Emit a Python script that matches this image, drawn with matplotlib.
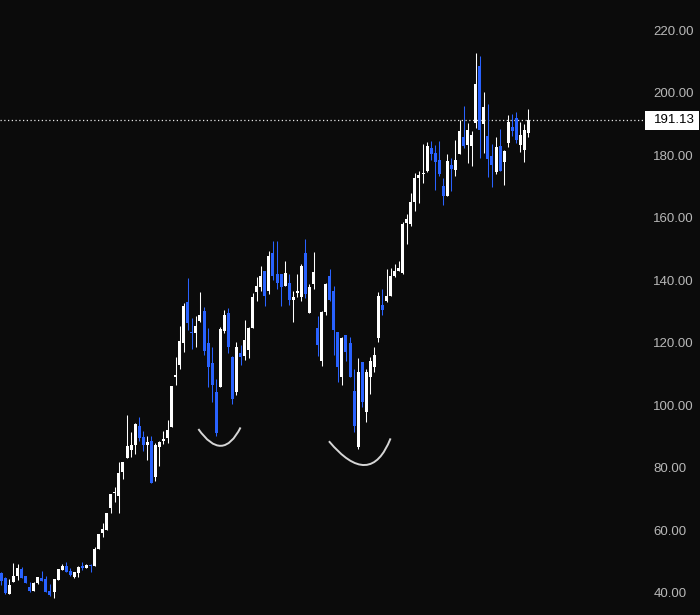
import matplotlib
matplotlib.use("Agg")
import matplotlib.pyplot as plt
import numpy as np
from matplotlib.path import Path
from matplotlib.patches import PathPatch, Rectangle
from matplotlib.transforms import blended_transform_factory

# daily candles
opens = [46.2, 44.7, 39.5, 43.6, 45.4, 47.7, 45.4, 42.0, 40.6, 43.0,
         44.8, 44.5, 40.6, 40.1, 44.2, 47.4, 48.6, 47.0, 45.1, 46.4,
         48.6, 48.0, 48.8, 48.6, 54.1, 59.2, 60.2, 67.2, 71.8, 71.1,
         78.8, 83.2, 85.8, 87.4, 93.5, 90.0, 87.4, 88.7, 77.2, 86.8,
         88.7, 89.6, 93.2, 109.0, 113.0, 119.9, 132.9, 123.4, 123.1, 127.1,
         130.3, 119.9, 113.4, 104.4, 105.8, 123.7, 129.4, 115.6, 104.4, 116.6,
         115.9, 117.8, 124.6, 136.1, 137.7, 142.8, 136.7, 148.6, 141.9, 141.9,
         138.3, 139.0, 133.8, 135.8, 134.5, 148.6, 129.4, 138.7, 124.6, 114.3,
         129.7, 141.2, 136.4, 123.3, 109.2, 122.6, 119.8, 104.7, 86.8, 114.0,
         98.0, 109.2, 112.4, 121.4, 132.2, 133.5, 135.1, 141.5, 143.0, 142.2,
         158.2, 157.9, 164.9, 172.6, 174.0, 174.8, 182.2, 180.6, 178.4, 170.0,
         166.8, 176.8, 175.2, 180.3, 185.7, 183.2, 182.9, 190.2, 208.5, 189.9,
         186.0, 179.7, 174.5, 182.9, 177.7, 183.8, 188.9, 191.8, 183.2, 181.6,
         187.0]
highs = [46.5, 44.9, 44.4, 49.6, 49.3, 48.3, 45.4, 43.6, 43.5, 45.1,
         47.0, 45.3, 42.8, 44.4, 47.7, 49.3, 49.9, 48.0, 46.8, 48.6,
         49.9, 49.3, 49.3, 54.7, 58.9, 62.4, 65.6, 71.7, 74.0, 82.0,
         82.0, 97.0, 91.6, 94.4, 96.4, 91.9, 90.3, 90.3, 88.0, 88.7,
         91.9, 95.4, 106.3, 115.6, 125.5, 132.7, 140.6, 128.0, 128.7, 136.1,
         131.3, 124.6, 118.6, 108.5, 124.9, 130.6, 131.0, 115.9, 120.4, 119.4,
         127.4, 124.9, 135.8, 140.9, 144.4, 143.1, 149.5, 152.7, 152.7, 141.9,
         146.3, 141.9, 136.4, 141.9, 145.1, 153.1, 138.7, 148.9, 128.7, 130.3,
         139.0, 143.5, 138.3, 123.3, 121.7, 122.6, 122.0, 111.7, 115.0, 114.0,
         111.7, 115.3, 118.5, 136.1, 137.3, 143.5, 143.8, 145.1, 146.0, 158.5,
         161.1, 167.8, 174.2, 174.8, 183.5, 184.1, 184.4, 183.2, 184.4, 172.6,
         180.3, 179.0, 184.8, 191.2, 195.7, 190.2, 187.7, 212.6, 211.7, 200.2,
         196.3, 183.5, 185.7, 188.3, 181.6, 192.8, 193.1, 193.7, 190.5, 189.9,
         194.7]
lows = [42.6, 39.6, 39.5, 43.6, 44.2, 44.6, 43.0, 40.3, 40.6, 42.7,
        43.8, 40.4, 39.0, 38.4, 44.2, 47.4, 46.7, 45.5, 44.6, 45.1,
        47.3, 48.0, 46.7, 48.6, 54.1, 57.9, 60.2, 65.6, 69.1, 65.6,
        76.5, 83.0, 83.5, 84.5, 88.7, 85.5, 82.6, 75.2, 75.9, 80.7,
        87.7, 88.0, 93.2, 106.6, 111.7, 116.9, 124.1, 117.9, 118.6, 126.8,
        116.2, 106.0, 101.2, 90.3, 105.8, 123.1, 116.6, 100.5, 103.4, 113.0,
        114.6, 115.0, 124.6, 133.2, 136.7, 131.9, 135.5, 140.0, 137.1, 131.6,
        138.0, 132.2, 126.8, 134.5, 133.5, 134.2, 129.4, 137.1, 115.9, 112.7,
        129.0, 133.2, 116.2, 107.3, 106.4, 114.3, 108.9, 91.5, 86.1, 99.6,
        94.8, 103.7, 110.5, 120.1, 129.0, 132.9, 135.1, 140.9, 143.0, 141.9,
        151.5, 157.2, 162.0, 164.6, 171.0, 174.5, 178.4, 168.8, 173.2, 164.0,
        166.8, 168.4, 173.3, 180.3, 182.2, 177.4, 176.7, 188.6, 179.0, 180.6,
        172.9, 169.7, 173.9, 174.9, 170.4, 182.5, 186.1, 183.8, 181.0, 177.8,
        185.7]
closes = [43.8, 39.8, 42.6, 45.4, 47.9, 44.6, 43.0, 40.6, 43.0, 45.1,
          43.8, 40.4, 39.4, 44.4, 47.7, 48.6, 46.7, 45.8, 46.8, 48.3,
          48.0, 48.9, 48.5, 54.1, 58.9, 60.5, 65.6, 71.7, 72.2, 78.4,
          82.0, 87.1, 87.4, 94.1, 89.6, 87.4, 88.4, 75.2, 87.4, 88.4,
          89.3, 92.2, 106.3, 109.8, 120.7, 131.6, 126.3, 123.1, 125.5, 129.0,
          117.5, 112.4, 106.6, 91.2, 124.3, 129.0, 118.8, 102.1, 118.8, 115.3,
          121.0, 124.6, 134.5, 138.0, 141.5, 134.8, 147.6, 141.5, 139.0, 137.7,
          142.2, 133.8, 134.5, 136.7, 144.7, 135.5, 137.7, 142.5, 119.4, 130.0,
          138.7, 133.8, 124.2, 112.1, 121.4, 117.2, 109.2, 93.5, 110.8, 100.9,
          110.8, 114.3, 116.2, 135.1, 130.6, 135.1, 141.5, 143.1, 143.8, 157.9,
          159.5, 164.9, 172.6, 173.6, 174.3, 182.9, 180.3, 177.7, 173.9, 166.8,
          178.1, 175.5, 178.4, 187.7, 182.9, 188.0, 186.4, 202.7, 188.0, 195.3,
          178.7, 176.8, 182.5, 174.9, 181.3, 190.5, 187.7, 184.8, 186.4, 188.0,
          191.13]

y_ticks = [40, 60, 80, 100, 120, 140, 160, 180, 200, 220]

# hand drawn arcs: (start, control, end) as (bar index, price)
arcs = [
    [(48.6, 92.4), (54.55, 81.4), (59.0, 92.9)],
    [(80.8, 88.5), (90.96, 72.8), (96.0, 89.4)],
]

BG = "#0b0b0b"
UP = "#ffffff"
DOWN = "#2962ff"
TXT = "#b8b8b8"
FONT = ["Liberation Sans", "DejaVu Sans"]

fig = plt.figure(figsize=(7, 6.15), dpi=100, facecolor=BG)
ax = fig.add_axes([0, 0, 643 / 700, 1])
ax.set_facecolor(BG)

o = np.array(opens)
h = np.array(highs)
l = np.array(lows)
c = np.array(closes)
x = np.arange(len(o))
up = c >= o
cols = np.where(up, UP, DOWN)

ax.vlines(x, l, h, colors=cols, lw=0.75, zorder=2)
body_lo = np.minimum(o, c)
body_h = np.maximum(np.abs(c - o), 0.35)
ax.bar(x, body_h, bottom=body_lo, width=0.74, color=cols, lw=0, zorder=3)

for p0, p1, p2 in arcs:
    path = Path([p0, p1, p2], [Path.MOVETO, Path.CURVE3, Path.CURVE3])
    ax.add_patch(PathPatch(path, fc="none", ec="#d6d6d6", lw=1.4, zorder=4))

last = closes[-1]
ax.axhline(last, color="#e6e6e6", lw=0.9, ls=(0, (1, 2)), zorder=1)

ax.set_xlim(-0.32, 158.25)
ax.set_ylim(32.9, 229.66)

ax.yaxis.tick_right()
ax.set_yticks(y_ticks)
ax.set_yticklabels([f"{v:.2f}" for v in y_ticks])
ax.tick_params(axis="y", length=0, pad=7.5, labelcolor=TXT, labelsize=9.5)
for lab in ax.get_yticklabels():
    lab.set_family(FONT)
ax.set_xticks([])
for s in ax.spines.values():
    s.set_visible(False)

# price tag of the last close
tr = blended_transform_factory(fig.transFigure, ax.transData)
fig.patches.append(Rectangle((644.7 / 700, last - 3.05), 54 / 700, 6.1,
                             transform=tr, fc="white", ec="none"))
fig.text(654 / 700, last, f"{last:.2f}", transform=tr, color="black",
         fontsize=9.5, va="center", ha="left", family=FONT)

fig.savefig("out.png", facecolor=BG)
